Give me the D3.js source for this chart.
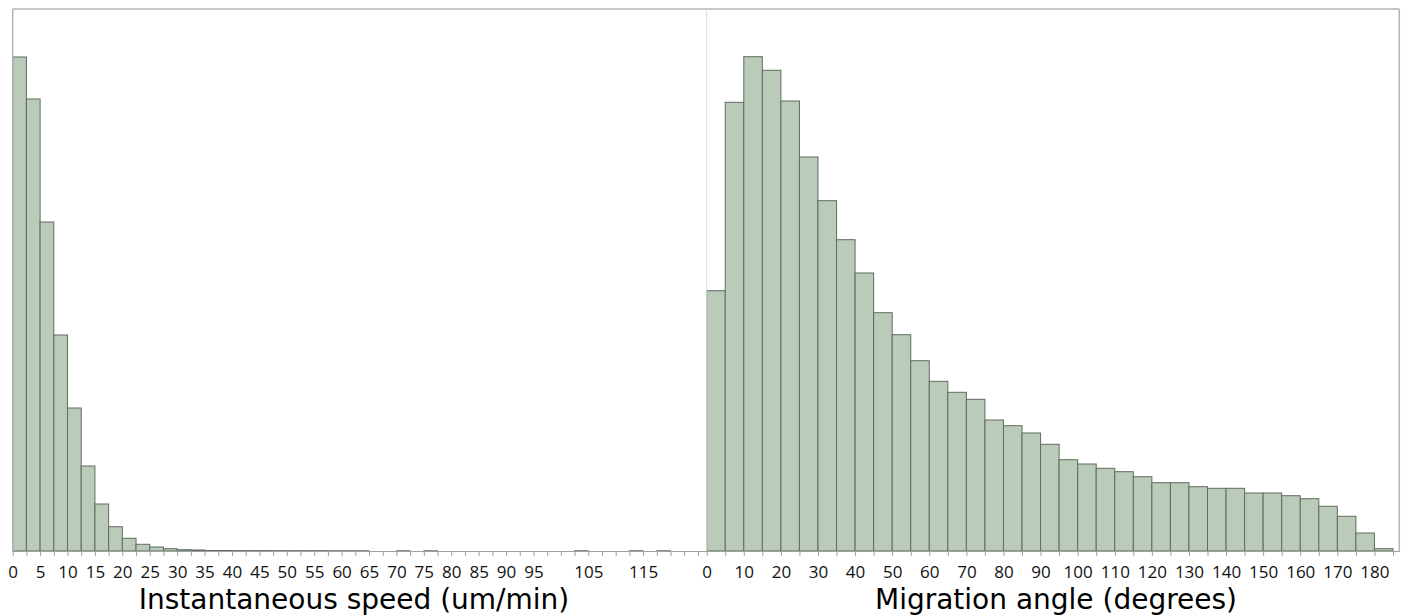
<!DOCTYPE html>
<html>
<head>
<meta charset="utf-8">
<script src="https://cdn.jsdelivr.net/npm/d3@7"></script>
<style>
  body { margin: 0; background: #fff; }
  svg { display: block; }
</style>
</head>
<body>
<div id="chart"></div>
<script>
// speed histogram, bins of 2.5 um/min starting at 0
var speedCounts = [4940, 4520, 3290, 2160, 1430, 850, 470, 243, 127, 67, 40, 23, 13, 10,
                   5, 5, 4, 4, 4, 3, 3, 3, 3, 2, 2, 2, 0, 0, 2, 0, 2, 0, 0, 0, 0, 0,
                   0, 0, 0, 0, 0, 2, 0, 0, 0, 2, 0, 2, 0, 0];
var speedBinWidth = 2.5;
var speedLabels = [0, 5, 10, 15, 20, 25, 30, 35, 40, 45, 50, 55, 60, 65, 70, 75, 80, 85, 90, 95, 105, 115];

// angle histogram, bins of 5 degrees starting at 0
var angleCounts = [2603, 4487, 4943, 4807, 4500, 3940, 3503, 3113, 2780, 2383, 2163, 1903,
                   1697, 1587, 1517, 1310, 1253, 1180, 1067, 913, 870, 827, 793, 743, 683,
                   683, 643, 627, 627, 580, 580, 553, 523, 447, 347, 180, 23];
var angleBinWidth = 5;
var angleLabels = [0, 10, 20, 30, 40, 50, 60, 70, 80, 90, 100, 110, 120, 130, 140, 150, 160, 170, 180];

var W = 1404, H = 615;
var plotTop = 9, base = 551;
var fill = "#bacbba", stroke = "#5f6d5f";

var svg = d3.select("#chart").append("svg").attr("width", W).attr("height", H);

var y = d3.scaleLinear().domain([0, 5420]).range([base, plotTop]);

function panel(counts, binW, labels, x0, x1, xmax, title, titleX) {
  var x = d3.scaleLinear().domain([0, xmax]).range([x0, x1]);
  var g = svg.append("g");

  var bins = counts.map(function(c, i){ return {lo: i * binW, hi: (i + 1) * binW, c: c}; })
                   .filter(function(d){ return d.c > 0; });

  g.selectAll("rect.bar").data(bins).enter().append("rect")
    .attr("class", "bar")
    .attr("x", d => x(d.lo))
    .attr("y", d => y(d.c))
    .attr("width", d => x(d.hi) - x(d.lo))
    .attr("height", d => base - y(d.c))
    .attr("fill", fill)
    .attr("stroke", stroke)
    .attr("stroke-width", 1);

  var edges = d3.range(0, xmax, binW);
  var axis = d3.axisBottom(x)
    .tickValues(edges)
    .tickSize(5)
    .tickSizeOuter(0)
    .tickFormat(d => labels.indexOf(d) >= 0 ? d : "");

  var ax = g.append("g").attr("transform", "translate(0," + base + ")").call(axis);
  ax.select(".domain").attr("stroke", "#a0a0a0").attr("stroke-width", 1.2);
  ax.selectAll(".tick line").attr("stroke", "#a0a0a0");
  ax.selectAll(".tick text")
    .attr("y", 0).attr("dy", 0)
    .attr("transform", "translate(0,27)")
    .attr("fill", "#111")
    .style("font-family", "'Open Sans', sans-serif")
    .style("font-size", "17px");

  svg.append("text")
    .attr("x", titleX).attr("y", 609)
    .attr("text-anchor", "middle")
    .style("font-family", "'DejaVu Sans', sans-serif")
    .style("font-size", "28px")
    .attr("fill", "#000")
    .text(title);
}

var lx0 = 12.7, mid = 706.7, rx1 = 1399.3;

panel(speedCounts, speedBinWidth, speedLabels, lx0, mid, 126.6, "Instantaneous speed (um/min)", 354);
panel(angleCounts, angleBinWidth, angleLabels, mid, rx1, 186.7, "Migration angle (degrees)", 1056);

// frame
svg.append("line").attr("x1", lx0).attr("x2", rx1).attr("y1", plotTop).attr("y2", plotTop)
  .attr("stroke", "#b4b4b4").attr("stroke-width", 1.5);
svg.append("line").attr("x1", lx0).attr("x2", lx0).attr("y1", plotTop).attr("y2", base)
  .attr("stroke", "#b4b4b4").attr("stroke-width", 1.5);
svg.append("line").attr("x1", rx1).attr("x2", rx1).attr("y1", plotTop).attr("y2", base)
  .attr("stroke", "#b4b4b4").attr("stroke-width", 1.5);
svg.append("line").attr("x1", mid).attr("x2", mid).attr("y1", plotTop).attr("y2", base)
  .attr("stroke", "#dcdcdc").attr("stroke-width", 1);
</script>
</body>
</html>
